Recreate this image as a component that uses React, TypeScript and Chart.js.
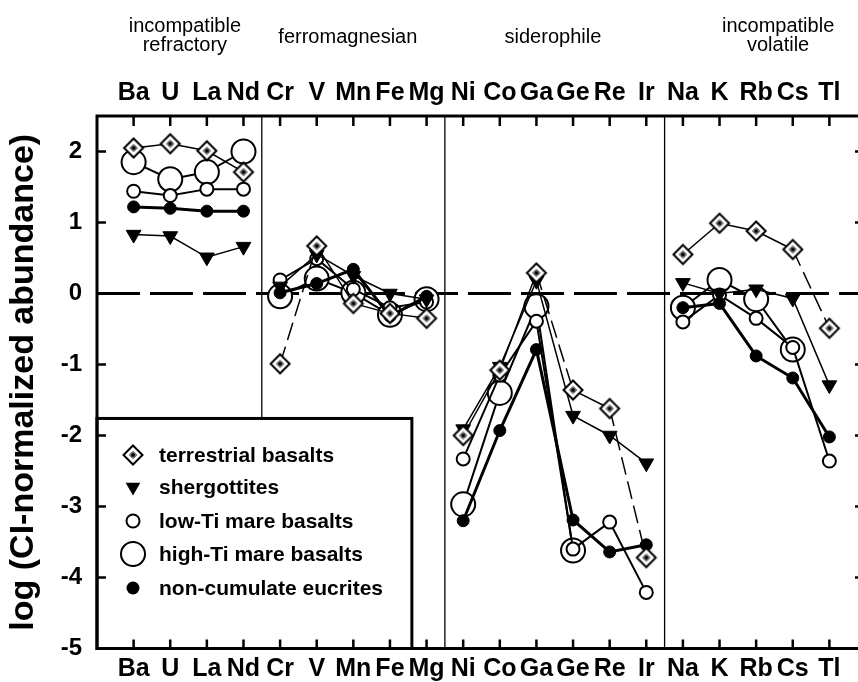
import React, { useEffect, useRef } from 'react';
import { Chart, registerables } from 'chart.js';

Chart.register(...registerables);

// ---------- data ----------
const elements = ['Ba', 'U', 'La', 'Nd', 'Cr', 'V', 'Mn', 'Fe', 'Mg', 'Ni', 'Co', 'Ga', 'Ge', 'Re', 'Ir', 'Na', 'K', 'Rb', 'Cs', 'Tl'];
const groupLastIndex = [3, 8, 14];
const groupTitles = [['incompatible', 'refractory'], ['ferromagnesian'], ['siderophile'], ['incompatible', 'volatile']];
const groupTitleAt = [1.4, 5.85, 11.45, 17.6];
const yTickValues = [-5, -4, -3, -2, -1, 0, 1, 2];
const yTitle = 'log (CI-normalized abundance)';

const terrestrialBasalts = [2.05, 2.11, 2.01, 1.71, -0.99, 0.67, -0.14, -0.28, -0.35, -2.0, -1.08, 0.29, -1.36, -1.62, -3.72, 0.55, 0.99, 0.88, 0.62, -0.49];
const shergottites = [0.83, 0.81, 0.51, 0.66, 0.1, 0.55, 0.25, 0.0, -0.08, -1.91, -1.03, 0.18, -1.72, -2.0, -2.39, 0.15, 0.0, 0.06, -0.07, -1.29];
const lowTiMare = [1.44, 1.38, 1.47, 1.47, 0.19, 0.49, 0.06, -0.2, -0.12, -2.33, -1.15, -0.39, -3.6, -3.22, -4.21, -0.4, -0.02, -0.35, -0.76, -2.36];
const highTiMare = [1.85, 1.61, 1.71, 2.0, -0.04, 0.21, 0.01, -0.3, -0.08, -2.97, -1.4, -0.18, -3.62, null, null, -0.2, 0.19, -0.08, -0.79, null];
const nonCumulateEucrites = [1.22, 1.2, 1.16, 1.16, 0.01, 0.14, 0.34, -0.32, -0.04, -3.2, -1.93, -0.79, -3.19, -3.64, -3.54, -0.2, -0.14, -0.88, -1.19, -2.02];

// terrestrial segments drawn dashed (starting element)
const terrestrialDashedFrom = ['Cr', 'Ga', 'Re', 'Cs'];

const legendLabels = ['terrestrial basalts', 'shergottites', 'low-Ti mare basalts', 'high-Ti mare basalts', 'non-cumulate eucrites'];

const FONT = '"Liberation Sans", Arial, Helvetica, sans-serif';

function toPoints(vals: (number | null)[]) {
  const pts: { x: number; y: number | null }[] = [];
  vals.forEach((v, i) => {
    pts.push({ x: i, y: v });
    if (groupLastIndex.includes(i)) pts.push({ x: i + 0.5, y: null });
  });
  return pts;
}

function makeDiamond(): HTMLCanvasElement {
  const c = document.createElement('canvas');
  c.width = 24;
  c.height = 24;
  const g = c.getContext('2d')!;
  g.beginPath();
  g.moveTo(12, 2.5);
  g.lineTo(21.5, 12);
  g.lineTo(12, 21.5);
  g.lineTo(2.5, 12);
  g.closePath();
  g.fillStyle = '#fff';
  g.fill();
  g.lineWidth = 2;
  g.strokeStyle = '#000';
  g.stroke();
  g.beginPath();
  g.moveTo(12, 8.5);
  g.lineTo(15.5, 12);
  g.lineTo(12, 15.5);
  g.lineTo(8.5, 12);
  g.closePath();
  g.lineWidth = 1;
  g.stroke();
  g.beginPath();
  g.arc(12, 12, 2, 0, Math.PI * 2);
  g.fillStyle = '#000';
  g.fill();
  return c;
}

function drawLegendMarker(ctx: CanvasRenderingContext2D, kind: number, x: number, y: number, diamond: HTMLCanvasElement) {
  ctx.save();
  ctx.strokeStyle = '#000';
  ctx.fillStyle = '#000';
  ctx.lineWidth = 2;
  if (kind === 0) {
    ctx.drawImage(diamond, x - 12, y - 12);
  } else if (kind === 1) {
    const r = 8.5;
    ctx.beginPath();
    ctx.moveTo(x - r * Math.sin(Math.PI / 3), y - r / 2);
    ctx.lineTo(x + r * Math.sin(Math.PI / 3), y - r / 2);
    ctx.lineTo(x, y + r);
    ctx.closePath();
    ctx.fill();
  } else if (kind === 2) {
    ctx.beginPath();
    ctx.arc(x, y, 6.5, 0, Math.PI * 2);
    ctx.fillStyle = '#fff';
    ctx.fill();
    ctx.stroke();
  } else if (kind === 3) {
    ctx.beginPath();
    ctx.arc(x, y, 12, 0, Math.PI * 2);
    ctx.fillStyle = '#fff';
    ctx.fill();
    ctx.stroke();
  } else {
    ctx.beginPath();
    ctx.arc(x, y, 6.5, 0, Math.PI * 2);
    ctx.fill();
  }
  ctx.restore();
}

export default function App() {
  const ref = useRef<HTMLCanvasElement | null>(null);

  useEffect(() => {
    if (!ref.current) return;
    const diamond = makeDiamond();

    const framePlugin = {
      id: 'framePlugin',
      beforeDatasetsDraw(chart: any) {
        const { ctx, chartArea: a, scales } = chart;
        const xs = scales.x;
        const ys = scales.y;
        ctx.save();
        ctx.strokeStyle = '#000';
        ctx.lineWidth = 1.3;
        groupLastIndex.forEach((i) => {
          const px = xs.getPixelForValue(i + 0.5);
          ctx.beginPath();
          ctx.moveTo(px, a.top);
          ctx.lineTo(px, a.bottom);
          ctx.stroke();
        });
        ctx.lineWidth = 3.2;
        ctx.setLineDash([43, 10]);
        const py = ys.getPixelForValue(0);
        ctx.beginPath();
        ctx.moveTo(a.left, py);
        ctx.lineTo(a.right, py);
        ctx.stroke();
        ctx.restore();
      },
      afterDraw(chart: any) {
        const { ctx, chartArea: a, scales } = chart;
        const xs = scales.x;
        const ys = scales.y;
        ctx.save();
        // legend box
        const lx = a.left;
        const lRight = xs.getPixelForValue(8.5) - 33;
        const lTop = ys.getPixelForValue(-1.76);
        ctx.fillStyle = '#fff';
        ctx.fillRect(lx, lTop, lRight - lx, a.bottom - lTop);
        ctx.strokeStyle = '#000';
        ctx.lineWidth = 3;
        ctx.strokeRect(lx, lTop, lRight - lx, a.bottom - lTop);
        const rows = [455, 487, 521, 554, 588];
        ctx.font = `bold 21px ${FONT}`;
        ctx.textBaseline = 'middle';
        ctx.textAlign = 'left';
        legendLabels.forEach((t, i) => {
          drawLegendMarker(ctx, i, lx + 36, rows[i], diamond);
          ctx.fillStyle = '#000';
          ctx.fillText(t, lx + 62, rows[i] + 1);
        });

        // frame
        ctx.strokeStyle = '#000';
        ctx.lineWidth = 3;
        ctx.strokeRect(a.left, a.top, a.right - a.left, a.bottom - a.top);
        // ticks
        ctx.lineWidth = 2.5;
        elements.forEach((_, i) => {
          const px = xs.getPixelForValue(i);
          ctx.beginPath();
          ctx.moveTo(px, a.top);
          ctx.lineTo(px, a.top + 10);
          ctx.moveTo(px, a.bottom);
          ctx.lineTo(px, a.bottom - 9);
          ctx.stroke();
        });
        yTickValues.forEach((v) => {
          const py = ys.getPixelForValue(v);
          ctx.beginPath();
          ctx.moveTo(a.left, py);
          ctx.lineTo(a.left + 9, py);
          ctx.moveTo(a.right, py);
          ctx.lineTo(a.right - 11, py);
          ctx.stroke();
        });

        // group titles
        ctx.fillStyle = '#000';
        ctx.font = `20px ${FONT}`;
        ctx.textAlign = 'center';
        ctx.textBaseline = 'alphabetic';
        groupTitles.forEach((lines, gi) => {
          const cx = xs.getPixelForValue(groupTitleAt[gi]);
          if (lines.length === 2) {
            ctx.fillText(lines[0], cx, 32);
            ctx.fillText(lines[1], cx, 51);
          } else {
            ctx.fillText(lines[0], cx, 43);
          }
        });
        ctx.restore();
      },
    };

    const common = {
      borderColor: '#000',
      pointBorderColor: '#000',
      spanGaps: false,
    };

    const xTicksFont = { family: FONT, size: 25, weight: 'bold' as const };

    const chart = new Chart(ref.current, {
      type: 'line',
      data: {
        datasets: [
          {
            ...common,
            label: legendLabels[0],
            data: toPoints(terrestrialBasalts),
            borderWidth: 1.5,
            pointStyle: diamond,
            pointRadius: 9,
            order: 1,
            segment: {
              borderDash: (c: any) => (terrestrialDashedFrom.includes(elements[c.p0.parsed.x]) ? [18, 7] : undefined),
            },
          },
          {
            ...common,
            label: legendLabels[1],
            data: toPoints(shergottites),
            borderWidth: 1.5,
            pointStyle: 'triangle',
            rotation: 180,
            pointRadius: 8.5,
            pointBackgroundColor: '#000',
            pointBorderWidth: 1,
            order: 2,
          },
          {
            ...common,
            label: legendLabels[4],
            data: toPoints(nonCumulateEucrites),
            borderWidth: 3,
            pointStyle: 'circle',
            pointRadius: 6,
            pointBackgroundColor: '#000',
            pointBorderWidth: 1,
            order: 3,
          },
          {
            ...common,
            label: legendLabels[2],
            data: toPoints(lowTiMare),
            borderWidth: 2,
            pointStyle: 'circle',
            pointRadius: 6.5,
            pointBackgroundColor: '#fff',
            pointBorderWidth: 2,
            order: 4,
          },
          {
            ...common,
            label: legendLabels[3],
            data: toPoints(highTiMare),
            borderWidth: 2,
            pointStyle: 'circle',
            pointRadius: 12,
            pointBackgroundColor: '#fff',
            pointBorderWidth: 2,
            order: 5,
          },
        ],
      },
      options: {
        animation: false,
        responsive: false,
        devicePixelRatio: 1,
        events: [],
        layout: { padding: { left: 0, top: 0, right: 13, bottom: 0 } },
        plugins: { legend: { display: false }, tooltip: { enabled: false } },
        scales: {
          x: {
            type: 'linear',
            position: 'bottom',
            min: -1,
            max: 20,
            afterBuildTicks: (s: any) => {
              s.ticks = elements.map((_, i) => ({ value: i }));
            },
            ticks: {
              autoSkip: false,
              maxRotation: 0,
              color: '#000',
              font: xTicksFont,
              padding: 6,
              callback: (v: any) => elements[v] ?? '',
            },
            grid: { display: false, drawTicks: false },
            border: { display: false },
            afterFit: (s: any) => {
              s.height = 33.5;
            },
          },
          x2: {
            type: 'linear',
            position: 'top',
            min: -1,
            max: 20,
            afterBuildTicks: (s: any) => {
              s.ticks = elements.map((_, i) => ({ value: i }));
            },
            ticks: {
              autoSkip: false,
              maxRotation: 0,
              color: '#000',
              font: xTicksFont,
              padding: 8,
              callback: (v: any) => elements[v] ?? '',
            },
            grid: { display: false, drawTicks: false },
            border: { display: false },
            afterFit: (s: any) => {
              s.height = 116;
            },
          },
          y: {
            type: 'linear',
            position: 'left',
            min: -5,
            max: 2.5,
            afterBuildTicks: (s: any) => {
              s.ticks = yTickValues.map((v) => ({ value: v }));
            },
            ticks: {
              color: '#000',
              font: { family: FONT, size: 24, weight: 'bold' },
              padding: 15,
              callback: (v: any) => String(v),
            },
            grid: { display: false, drawTicks: false },
            border: { display: false },
            title: {
              display: true,
              text: yTitle,
              color: '#000',
              font: { family: FONT, size: 34, weight: 'bold' },
              padding: { top: 3, bottom: 0 },
            },
            afterFit: (s: any) => {
              s.width = 97;
            },
          },
        },
      },
      plugins: [framePlugin],
    } as any);

    return () => chart.destroy();
  }, []);

  return (
    <div style={{ position: 'fixed', left: 0, top: 0, width: 858, height: 682, overflow: 'hidden', background: '#fff' }}>
      <canvas ref={ref} width={880} height={682} style={{ width: 880, height: 682, display: 'block' }} />
    </div>
  );
}
